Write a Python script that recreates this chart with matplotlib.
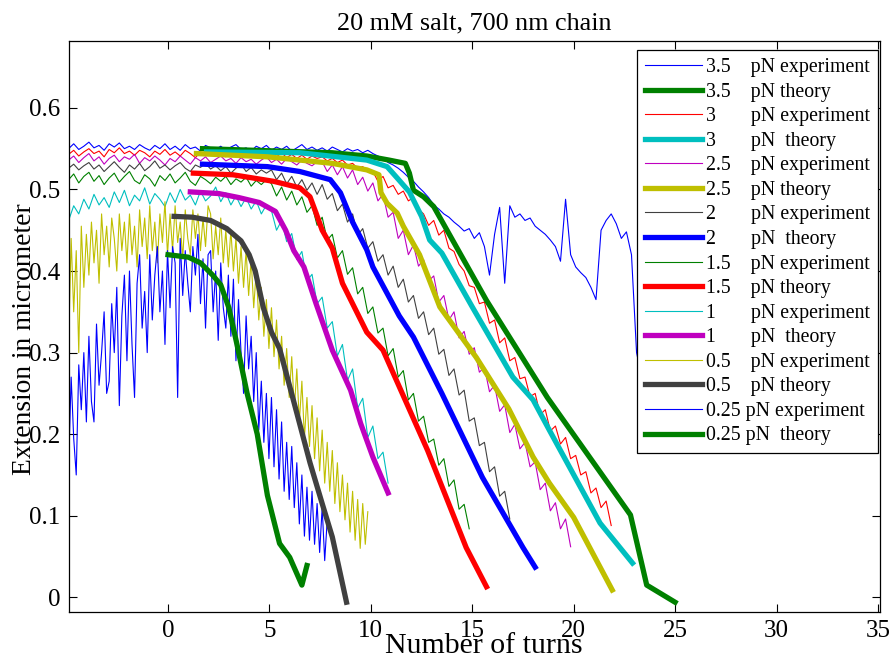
import numpy as np
import matplotlib
matplotlib.use("Agg")
import matplotlib.pyplot as plt

plt.rcParams['font.family'] = ['Liberation Serif', 'DejaVu Serif']

# ---------------- data ----------------
# experimental traces: extension in nm, sampled from -4.9 turns
turn_start = -4.9
turn_step = 0.25        # coarse sampling (quiet traces)
turn_step_fine = 0.125  # fine sampling (noisy low-force traces)

exp_35 = [550,556,549,553,558,551,554,548,556,552,
          557,550,553,549,555,551,548,554,550,556,
          549,553,548,555,550,552,547,554,551,549,
          553,548,552,555,549,551,547,553,550,554,
          548,552,549,553,547,551,555,549,552,548,
          551,547,552,549,546,550,547,549,545,548,
          544,541,538,533,530,526,521,515,510,503,
          497,490,481,476,470,466,460,455,449,452,
          440,447,430,395,445,478,385,480,466,470,
          462,465,455,450,445,438,430,412,488,420,
          405,398,392,380,365,450,462,470,458,440,
          448,420,300,270]
exp_3 = [543,548,541,546,550,544,547,540,549,545,
         551,544,547,542,548,545,540,547,543,549,
         542,546,541,548,544,539,546,543,547,541,
         545,540,546,543,539,545,541,547,542,538,
         544,540,545,539,543,538,542,537,541,538,
         540,535,538,533,536,530,532,526,528,522,
         522,510,516,502,505,494,498,486,490,476,
         470,456,462,444,450,428,424,408,400,382,
         380,360,362,336,340,312,318,290,294,268,
         270,246,250,224,230,204,210,188,196,170,
         174,150,154,128,134,110,118,88]
exp_25 = [536,541,533,539,544,535,540,531,538,542,
          534,540,537,543,532,539,535,541,536,530,
          538,534,541,536,531,539,535,540,533,537,
          541,535,538,532,539,534,537,531,536,540,
          533,537,531,538,534,530,536,532,529,534,
          534,522,530,518,528,514,524,506,515,498,
          508,486,494,466,472,440,450,420,432,406,
          414,388,394,362,370,340,350,318,326,298,
          306,276,282,252,260,228,236,202,212,182,
          190,160,166,132,140,106,116,84,96,62]
exp_2 = [526,531,524,529,533,525,530,522,528,534,
         527,521,530,525,532,523,528,535,526,530,
         524,529,533,526,522,530,527,532,525,529,
         523,528,520,526,531,522,527,519,524,520,
         524,512,520,507,516,503,512,499,508,494,
         506,488,495,474,482,460,470,444,452,428,
         436,412,420,395,406,380,390,362,370,342,
         350,322,330,298,304,272,280,248,254,216,
         220,186,190,154,160,124,130,96]
exp_15 = [512,519,508,516,521,510,517,506,514,520,
          509,516,522,511,507,518,513,504,517,511,
          519,508,514,521,510,505,516,512,507,515,
          510,516,506,513,509,515,504,511,506,512,
          507,492,503,487,498,481,491,472,480,456,
          466,438,445,416,425,396,404,372,380,348,
          356,324,330,296,305,270,278,242,250,216,
          222,190,194,162,170,136,144,108,114,84]
exp_1 = [462,480,470,488,476,494,481,490,478,497,
         484,499,480,493,486,502,482,495,488,479,
         496,484,500,487,493,481,498,486,492,503,
         485,496,481,492,479,490,476,486,470,481,
         474,450,462,436,446,414,424,388,396,360,
         368,330,338,296,310,266,280,232,244,196,
         210,170,178,140]
# fine-sampled (0.125 turn) noisy traces
exp_05 = [310,440,350,425,300,455,380,445,
          395,460,410,450,385,470,420,455,
          405,465,440,400,470,425,460,410,
          470,420,455,405,475,430,465,415,
          480,425,460,410,470,435,485,420,
          470,425,480,435,460,415,475,440,
          420,475,440,470,425,465,430,480,
          470,415,455,420,465,410,450,405,
          450,400,440,385,430,380,425,370,
          415,355,400,340,380,320,365,305,
          355,295,340,280,320,260,305,245,
          295,230,280,215,265,195,245,185,
          235,170,220,155,205,140,190,130,
          180,115,165,105,150,95,140,80,
          130,70,120,60,115,65,105]
exp_025 = [160,270,195,150,285,230,300,215,
           320,240,215,335,260,300,350,250,
           265,360,300,380,235,345,395,290,
           400,310,245,385,420,330,375,300,
           420,340,395,430,350,400,310,425,
           355,430,410,245,440,370,425,385,
           350,430,395,445,360,415,330,420,
           425,350,400,315,410,355,330,395,
           320,390,290,365,300,250,345,280,
           320,240,300,205,265,190,250,170,
           245,160,230,145,215,130,190,120,
           185,110,165,90,150,75,135,70,
           130,65,115,55,110,45,95]

# theory curves (turns, extension in micrometer)
th_35_x = [1.7, 8.1, 9.8, 10.9, 11.7, 11.9, 12.1, 12.6, 13.1, 15.7, 18.7, 22.8, 23.6, 25.0]
th_35_y = [0.55, 0.545, 0.541, 0.536, 0.532, 0.52, 0.499, 0.491, 0.479, 0.364, 0.245, 0.101, 0.015, -0.006]
th_3_x = [1.9, 6.5, 9.8, 10.8, 11.3, 11.9, 12.5, 12.9, 13.5, 15.0, 17.0, 18.0, 18.8, 21.3, 22.9]
th_3_y = [0.546, 0.545, 0.536, 0.528, 0.514, 0.497, 0.467, 0.438, 0.422, 0.356, 0.27, 0.242, 0.205, 0.091, 0.042]
th_25_x = [1.4, 4.9, 8.1, 9.8, 10.4, 10.5, 10.8, 11.3, 11.6, 12.4, 13.4, 15.2, 16.8, 18.0, 18.8, 20.0, 21.9]
th_25_y = [0.544, 0.54, 0.532, 0.524, 0.518, 0.496, 0.483, 0.471, 0.455, 0.42, 0.356, 0.294, 0.231, 0.172, 0.14, 0.098, 0.009]
th_2_x = [1.7, 4.9, 6.5, 8.0, 8.5, 9.1, 9.8, 10.1, 11.4, 12.1, 13.5, 15.5, 17.5, 18.1]
th_2_y = [0.531, 0.528, 0.522, 0.512, 0.496, 0.46, 0.426, 0.405, 0.345, 0.319, 0.25, 0.147, 0.061, 0.037]
th_15_x = [1.25, 3.2, 5.2, 6.5, 7.0, 7.3, 7.6, 8.1, 8.6, 9.8, 10.6, 12.8, 14.7, 15.7]
th_15_y = [0.52, 0.518, 0.51, 0.502, 0.491, 0.471, 0.45, 0.428, 0.385, 0.325, 0.303, 0.18, 0.061, 0.013]
th_1_x = [1.1, 2.5, 3.5, 4.5, 5.3, 5.8, 6.2, 6.7, 7.3, 8.1, 9.0, 9.5, 10.1, 10.85]
th_1_y = [0.497, 0.495, 0.49, 0.484, 0.473, 0.45, 0.425, 0.405, 0.36, 0.303, 0.254, 0.213, 0.172, 0.128]
th_05_x = [0.3, 1.2, 2.1, 2.9, 3.6, 4.0, 4.3, 4.7, 5.1, 5.5, 6.2, 7.0, 7.6, 8.1, 8.8]
th_05_y = [0.467, 0.466, 0.462, 0.452, 0.437, 0.42, 0.40, 0.355, 0.325, 0.305, 0.24, 0.165, 0.115, 0.074, -0.006]
th_025_x = [0, 1, 1.6, 2.2, 2.6, 3.0, 3.4, 3.9, 4.4, 4.9, 5.5, 6.0, 6.6, 6.85]
th_025_y = [0.42, 0.417, 0.41, 0.395, 0.383, 0.355, 0.31, 0.25, 0.20, 0.125, 0.066, 0.049, 0.015, 0.039]

exp_labels = ['3.5    pN experiment', '3       pN experiment', '2.5    pN experiment',
              '2       pN experiment', '1.5    pN experiment', '1       pN experiment',
              '0.5    pN experiment', '0.25 pN experiment']
th_labels = ['3.5    pN theory', '3       pN  theory', '2.5    pN theory',
             '2       pN  theory', '1.5    pN theory', '1       pN  theory',
             '0.5    pN theory', '0.25 pN  theory']

xticks = [0, 5, 10, 15, 20, 25, 30, 35]
yticks = [0, 0.1, 0.2, 0.3, 0.4, 0.5, 0.6]

# ---------------- styling ----------------
B = (0, 0, 1); G = (0, 0.5, 0); R = (1, 0, 0); C = (0, 0.75, 0.75)
M = (0.75, 0, 0.75); Y = (0.75, 0.75, 0); K = (0.25, 0.25, 0.25)
exp_series = [exp_35, exp_3, exp_25, exp_2, exp_15, exp_1, exp_05, exp_025]
exp_steps = [turn_step] * 6 + [turn_step_fine, turn_step_fine]
exp_colors = [B, R, M, K, G, C, Y, B]
th_series = [(th_35_x, th_35_y), (th_3_x, th_3_y), (th_25_x, th_25_y), (th_2_x, th_2_y),
             (th_15_x, th_15_y), (th_1_x, th_1_y), (th_05_x, th_05_y), (th_025_x, th_025_y)]
th_colors = [G, C, Y, B, R, M, K, G]

fig = plt.figure(figsize=(8.93, 6.59), dpi=100)
ax = fig.add_axes([0.0773, 0.0713, 0.9081, 0.8665])

handles = []
for i in range(8):
    ys = np.array(exp_series[i]) / 1000.0
    xs = turn_start + exp_steps[i] * np.arange(len(ys))
    h1, = ax.plot(xs, ys, color=exp_colors[i], lw=0.8, zorder=2, label=exp_labels[i])
    tx, ty = th_series[i]
    h2, = ax.plot(tx, ty, color=th_colors[i], lw=3.8, zorder=3, label=th_labels[i])
    handles += [h1, h2]

ax.set_xlim(-4.88, 35.1)
ax.set_ylim(-0.018, 0.682)
ax.set_xticks(xticks)
ax.set_xticklabels([str(t) for t in xticks])
ax.set_yticks(yticks)
ax.set_yticklabels(['0', '0.1', '0.2', '0.3', '0.4', '0.5', '0.6'])
ax.tick_params(direction='in', length=6, width=0.8, top=True, right=True,
               labelsize=18, pad=6, colors='black')
for s in ax.spines.values():
    s.set_linewidth(0.9)

ax.set_title('20 mM salt, 700 nm chain', fontsize=18.8, pad=8)
ax.set_xlabel('Number of turns', fontsize=21.5)
ax.xaxis.label.set_va('center')
ax.xaxis.set_label_coords(0.512, -0.059)
ax.set_ylabel('Extension in micrometer', fontsize=19.8)
ax.yaxis.label.set_va('center')
ax.yaxis.set_label_coords(-0.0555, 0.478)

leg = ax.legend(handles=handles, loc='upper right', bbox_to_anchor=(0.998, 0.984),
                fontsize=14.3, handlelength=2.9, handletextpad=0.2, labelspacing=0.28,
                borderaxespad=0.0, borderpad=0.4,
                fancybox=False, framealpha=1, edgecolor='black')
leg.get_frame().set_linewidth(0.9)
leg.set_zorder(10)

fig.savefig('out.png', dpi=100)
